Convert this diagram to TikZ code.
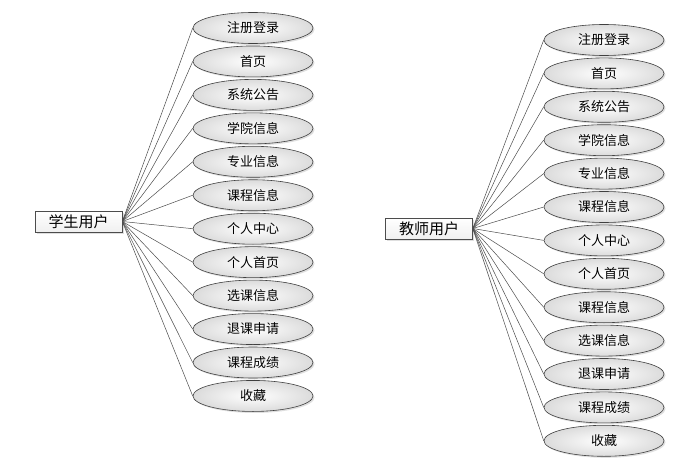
\documentclass[tikz,border=0pt]{standalone}
\usepackage{fontspec}
\newfontfamily\cjk{Noto Sans CJK SC}
\usetikzlibrary{shapes.geometric,shadows}
\begin{document}
\begin{tikzpicture}[x=1pt,y=-1pt,
  usecase/.style={ellipse,draw=black!75,line width=0.6pt,minimum width=120pt,minimum height=31pt,inner sep=0pt,
    inner color=white,outer color=gray!28,font=\cjk\fontsize{13}{13}\selectfont,
    drop shadow={shadow xshift=1.5pt,shadow yshift=-1.5pt,opacity=0.25}},
  actor/.style={rectangle,draw=black!70,line width=0.6pt,minimum width=87pt,minimum height=21pt,inner sep=0pt,
    top color=white,bottom color=gray!12,font=\cjk\fontsize{15}{15}\selectfont,
    drop shadow={shadow xshift=1.5pt,shadow yshift=-1.5pt,opacity=0.25}},
  link/.style={draw=black!70,line width=0.5pt}]
\useasboundingbox (0,0) rectangle (688,468);
\fill[white] (0,0) rectangle (688,468);
% left
\node[actor] (s) at (78.5,221.5) {学生用户};
\foreach \t [count=\i] in {注册登录,首页,系统公告,学院信息,专业信息,课程信息,个人中心,个人首页,选课信息,退课申请,课程成绩,收藏}{
  \node[usecase] (s\i) at (253,{28+(\i-1)*33.45}) {\t};
  \draw[link] (s.east) -- (s\i.west);
}
% right
\node[actor] (t) at (429,228.5) {教师用户};
\foreach \t [count=\i] in {注册登录,首页,系统公告,学院信息,专业信息,课程信息,个人中心,个人首页,课程信息,选课信息,退课申请,课程成绩,收藏}{
  \node[usecase] (t\i) at (604,{40+(\i-1)*33.4}) {\t};
  \draw[link] (t.east) -- (t\i.west);
}
\end{tikzpicture}
\end{document}
